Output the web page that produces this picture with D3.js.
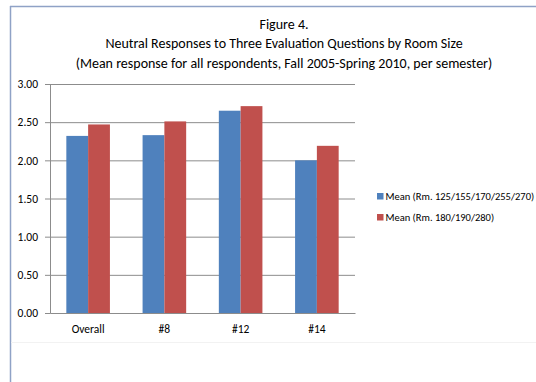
<!DOCTYPE html>
<html>
<head>
<meta charset="utf-8">
<script src="https://cdn.jsdelivr.net/npm/d3@7"></script>
<style>
    body { margin: 0; background: #fff; }
    svg { display: block; font-family: Carlito, Calibri, "Liberation Sans", sans-serif; }
</style>
</head>
<body>
<div id="chart"></div>
<script>
// Chart data
const categories = ["Overall", "#8", "#12", "#14"];
const seriesNames = ["Mean (Rm. 125/155/170/255/270)", "Mean (Rm. 180/190/280)"];
const smallRooms = [2.32, 2.33, 2.65, 2.00];
const largeRooms = [2.47, 2.51, 2.71, 2.19];
const yTicks = [0, 0.5, 1, 1.5, 2, 2.5, 3];
const titleLines = [
    "Figure 4.",
    "Neutral Responses to Three Evaluation Questions by Room Size",
    "(Mean response for all respondents, Fall 2005-Spring 2010, per semester)"
];

const COLORS = ["#4F81BD", "#C0504D"];

const width = 536, height = 382;
const plot = { left: 50, right: 355, top: 84, bottom: 313 };

const svg = d3.select("#chart").append("svg")
    .attr("width", width)
    .attr("height", height);

// chart frame (only left and top edges are visible in the window)
svg.append("line").attr("x1", 10.5).attr("x2", 10.5).attr("y1", 6).attr("y2", height)
    .attr("stroke", "#8FA2C6").attr("stroke-width", 1.5);
svg.append("line").attr("x1", 10).attr("x2", width).attr("y1", 6.5).attr("y2", 6.5)
    .attr("stroke", "#8FA2C6").attr("stroke-width", 1.5);
svg.append("line").attr("x1", 11).attr("x2", width).attr("y1", 342.5).attr("y2", 342.5)
    .attr("stroke", "#f2f2f2");

// title
svg.append("g").selectAll("text")
    .data(titleLines)
    .join("text")
    .attr("x", 284)
    .attr("y", (d, i) => 28.5 + i * 19.5)
    .attr("text-anchor", "middle")
    .attr("font-size", "14px")
    .attr("fill", "#000")
    .text(d => d);

const x0 = d3.scaleBand()
    .domain(categories)
    .range([plot.left, plot.right])
    .paddingInner(0)
    .paddingOuter(0);

const x1 = d3.scaleBand()
    .domain(seriesNames)
    .range([x0.bandwidth() * 0.2142, x0.bandwidth() * 0.7858]);

const y = d3.scaleLinear()
    .domain([0, 3])
    .range([plot.bottom, plot.top]);

// gridlines
svg.append("g")
    .attr("transform", `translate(${plot.left},0)`)
    .call(d3.axisLeft(y).tickValues(yTicks.slice(1)).tickSize(-(plot.right - plot.left)).tickFormat(""))
    .call(g => g.select(".domain").remove())
    .selectAll(".tick line")
    .attr("stroke", "#8C8C8C");

// y axis
svg.append("g")
    .attr("transform", `translate(${plot.left},0)`)
    .call(d3.axisLeft(y).tickValues(yTicks).tickSize(5).tickFormat(d3.format(".2f")))
    .call(g => g.select(".domain").attr("stroke", "#8C8C8C"))
    .call(g => g.selectAll(".tick line").attr("stroke", "#8C8C8C"))
    .call(g => g.selectAll(".tick text")
        .attr("x", -12)
        .attr("fill", "#000")
        .attr("font-size", "11.5px")
        .attr("font-family", "Carlito, Calibri, 'Liberation Sans', sans-serif"));

// bars
const rows = categories.map((c, i) => ({ cat: c, values: [smallRooms[i], largeRooms[i]] }));

svg.append("g").selectAll("g")
    .data(rows)
    .join("g")
    .attr("transform", d => `translate(${x0(d.cat)},0)`)
    .selectAll("rect")
    .data(d => d.values.map((v, j) => ({ name: seriesNames[j], v, j })))
    .join("rect")
    .attr("x", d => x1(d.name))
    .attr("y", d => y(d.v))
    .attr("width", x1.bandwidth())
    .attr("height", d => y(0) - y(d.v))
    .attr("fill", d => COLORS[d.j]);

// x axis
svg.append("g")
    .attr("transform", `translate(0,${plot.bottom})`)
    .call(d3.axisBottom(x0).tickSize(0).tickSizeOuter(0))
    .call(g => g.select(".domain").attr("stroke", "#8C8C8C"))
    .call(g => g.selectAll(".tick text")
        .attr("y", 12)
        .attr("fill", "#000")
        .attr("font-size", "11.5px")
        .attr("font-family", "Carlito, Calibri, 'Liberation Sans', sans-serif"));

// legend
const legend = svg.append("g").selectAll("g")
    .data(seriesNames)
    .join("g")
    .attr("transform", (d, i) => `translate(377,${193 + i * 21})`);

legend.append("rect")
    .attr("width", 6.5)
    .attr("height", 6.5)
    .attr("fill", (d, i) => COLORS[i]);

legend.append("text")
    .attr("x", 8.5)
    .attr("y", 7)
    .attr("font-size", "10.5px")
    .attr("fill", "#000")
    .text(d => d);
</script>
</body>
</html>
